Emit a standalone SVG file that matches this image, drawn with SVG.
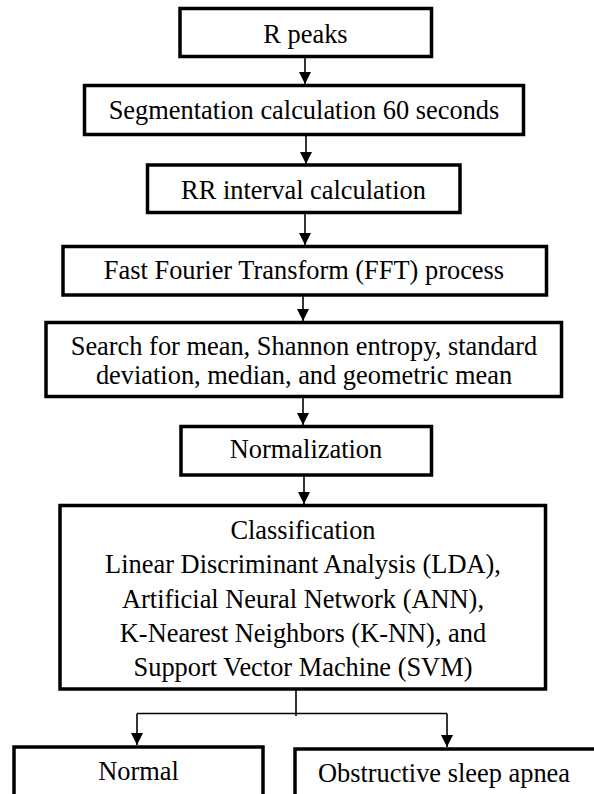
<svg xmlns="http://www.w3.org/2000/svg" width="594" height="794" viewBox="0 0 594 794">
  <style>
    .box { fill: #ffffff; stroke: #000000; stroke-width: 3.5; }
    .lbl { font-family: "Liberation Serif", "Times New Roman", serif; font-size: 26.4px; fill: #000000; text-anchor: middle; }
    .con { stroke: #000000; stroke-width: 1.6; fill: none; }
  </style>
  <defs>
    <marker id="arr" viewBox="0 0 12 12" refX="12" refY="6" markerWidth="12" markerHeight="12" markerUnits="userSpaceOnUse" orient="auto">
      <path d="M0,0 L12,6 L0,12 z" fill="#000000"/>
    </marker>
  </defs>
  <rect width="594" height="794" fill="#ffffff"/>

  <g id="connectors">
    <line class="con" x1="305" y1="57" x2="305" y2="84" marker-end="url(#arr)"/>
    <line class="con" x1="306" y1="135" x2="306" y2="164" marker-end="url(#arr)"/>
    <line class="con" x1="305" y1="213" x2="305" y2="245" marker-end="url(#arr)"/>
    <line class="con" x1="303" y1="295" x2="303" y2="321" marker-end="url(#arr)"/>
    <line class="con" x1="303" y1="397" x2="303" y2="425" marker-end="url(#arr)"/>
    <line class="con" x1="304" y1="475" x2="304" y2="504" marker-end="url(#arr)"/>
    <line class="con" x1="296" y1="689" x2="296" y2="716"/>
    <line class="con" x1="137" y1="713.5" x2="447" y2="713.5"/>
    <line class="con" x1="137" y1="713.5" x2="137" y2="745" marker-end="url(#arr)"/>
    <line class="con" x1="447" y1="713.5" x2="447" y2="747" marker-end="url(#arr)"/>
  </g>

  <g id="node-rpeaks">
    <rect class="box" x="180" y="8.5" width="251.5" height="48"/>
    <text class="lbl" x="305.5" y="42.5">R peaks</text>
  </g>
  <g id="node-segmentation">
    <rect class="box" x="84.5" y="85.5" width="439" height="49"/>
    <text class="lbl" x="304" y="119">Segmentation calculation 60 seconds</text>
  </g>
  <g id="node-rr">
    <rect class="box" x="147.5" y="165" width="312.5" height="47.5"/>
    <text class="lbl" x="303.5" y="198.5">RR interval calculation</text>
  </g>
  <g id="node-fft">
    <rect class="box" x="63" y="246.5" width="483.5" height="48.5"/>
    <text class="lbl" x="304" y="278.5">Fast Fourier Transform (FFT) process</text>
  </g>
  <g id="node-features">
    <rect class="box" x="46" y="322.5" width="515.5" height="74"/>
    <text class="lbl" x="304" y="355">Search for mean, Shannon entropy, standard</text>
    <text class="lbl" x="304" y="384">deviation, median, and geometric mean</text>
  </g>
  <g id="node-normalization">
    <rect class="box" x="181" y="426.5" width="250.5" height="48.5"/>
    <text class="lbl" x="306" y="458">Normalization</text>
  </g>
  <g id="node-classification">
    <rect class="box" x="60" y="505.5" width="485.5" height="183.5"/>
    <text class="lbl" x="303" y="539">Classification</text>
    <text class="lbl" x="303" y="573">Linear Discriminant Analysis (LDA),</text>
    <text class="lbl" x="303" y="607.5">Artificial Neural Network (ANN),</text>
    <text class="lbl" x="303" y="642">K-Nearest Neighbors (K-NN), and</text>
    <text class="lbl" x="303" y="676">Support Vector Machine (SVM)</text>
  </g>
  <g id="node-normal">
    <rect class="box" x="14" y="747" width="249" height="60"/>
    <text class="lbl" x="138.5" y="780">Normal</text>
  </g>
  <g id="node-osa">
    <rect class="box" x="295" y="749" width="310" height="60"/>
    <text class="lbl" x="444" y="782">Obstructive sleep apnea</text>
  </g>
</svg>
